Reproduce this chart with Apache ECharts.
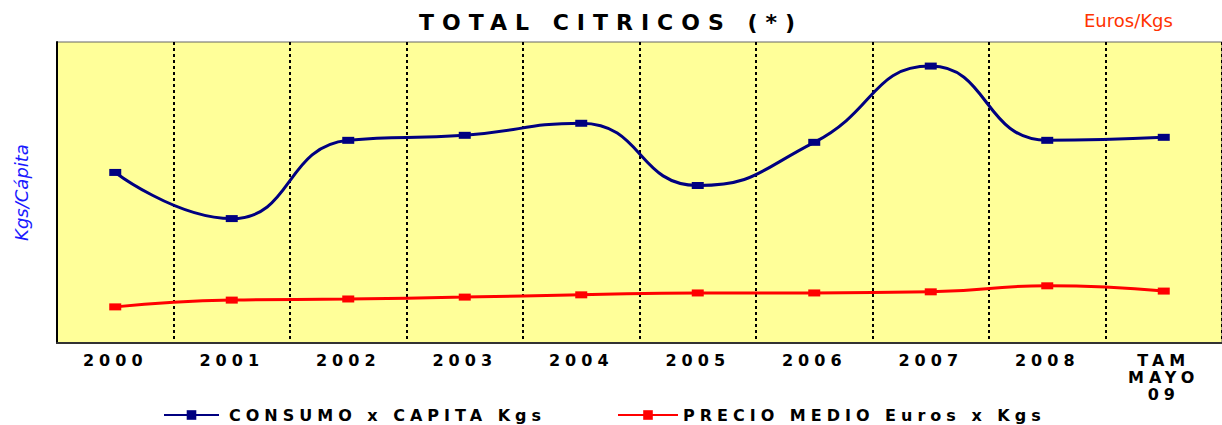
<!DOCTYPE html>
<html>
<head>
<meta charset="utf-8">
<title>TOTAL CITRICOS</title>
<script src="https://cdn.jsdelivr.net/npm/echarts@6/dist/echarts.min.js"></script>
<style>
    html, body { margin: 0; padding: 0; background: #fff; }
    #main { width: 1222px; height: 425px; }
    /* textos en negrita mas espaciados, como en el original */
    #main text[style*="bold"] { letter-spacing: 5px; }
    #main text[style*="22px"] { letter-spacing: 8px; }
</style>
</head>
<body>
<div id="main"></div>
<script>
    var years = ['2000', '2001', '2002', '2003', '2004', '2005', '2006', '2007', '2008', 'TAM\nMAYO\n09'];
    // Kgs/Capita
    var consumo = [27.0, 22.4, 30.2, 30.7, 31.9, 25.7, 30.0, 37.6, 30.2, 30.5];
    // Euros/Kgs
    var precio = [0.96, 1.14, 1.17, 1.22, 1.28, 1.33, 1.33, 1.36, 1.52, 1.38];

    var fontBold = 'DejaVu Sans';
    var myChart = echarts.init(document.getElementById('main'), null, { renderer: 'svg' });

    var option = {
        animation: false,
        title: [{
            text: 'TOTAL CITRICOS (*)',
            left: 'center',
            top: 6,
            textStyle: { fontFamily: fontBold, fontSize: 22, fontWeight: 'bold', color: '#000' }
        }, {
            text: 'Euros/Kgs',
            left: 1079,
            top: 6,
            textStyle: { fontFamily: 'DejaVu Sans', fontSize: 18, fontWeight: 'normal', color: '#FF3300' }
        }],
        legend: [{
            data: ['CONSUMO x CAPITA Kgs'],
            left: 163,
            top: 407,
            padding: 0,
            itemWidth: 55,
            itemHeight: 12,
            textStyle: { fontFamily: fontBold, fontSize: 16, fontWeight: 'bold', color: '#000', padding: [0, 0, 0, 5] }
        }, {
            data: ['PRECIO MEDIO Euros x Kgs'],
            left: 617,
            top: 407,
            padding: 0,
            itemWidth: 60,
            itemHeight: 12,
            textStyle: { fontFamily: fontBold, fontSize: 16, fontWeight: 'bold', color: '#000' }
        }],
        grid: {
            left: 57,
            right: 0,
            top: 42,
            bottom: 82,
            show: true,
            backgroundColor: '#FFFF99',
            borderColor: '#666',
            borderWidth: 1
        },
        xAxis: {
            type: 'category',
            data: years,
            boundaryGap: true,
            axisLine: { lineStyle: { color: '#333', width: 2 } },
            axisTick: { show: false },
            axisLabel: {
                fontFamily: fontBold,
                fontSize: 16,
                fontWeight: 'bold',
                color: '#000',
                margin: 9,
                lineHeight: 17,
                interval: 0
            },
            splitLine: { show: true, lineStyle: { color: '#000', width: 2, type: [3, 3] } }
        },
        yAxis: [{
            type: 'value',
            min: 10,
            max: 40,
            name: 'Kgs/Cápita',
            nameLocation: 'middle',
            nameGap: 27,
            nameRotate: 90,
            nameTextStyle: { fontFamily: 'DejaVu Sans', fontStyle: 'italic', fontSize: 18, color: '#1a1aff' },
            axisLine: { show: true, lineStyle: { color: '#000', width: 2 } },
            axisTick: { show: false },
            axisLabel: { show: false },
            splitLine: { show: false }
        }, {
            type: 'value',
            min: 0,
            max: 8,
            axisLine: { show: false },
            axisTick: { show: false },
            axisLabel: { show: false },
            splitLine: { show: false }
        }],
        series: [{
            name: 'CONSUMO x CAPITA Kgs',
            type: 'line',
            yAxisIndex: 0,
            data: consumo,
            smooth: 0.5,
            symbol: 'rect',
            symbolSize: [12, 7],
            itemStyle: { color: '#000080' },
            lineStyle: { color: '#000080', width: 3 }
        }, {
            name: 'PRECIO MEDIO Euros x Kgs',
            type: 'line',
            yAxisIndex: 1,
            data: precio,
            smooth: 0.5,
            symbol: 'rect',
            symbolSize: [12, 7],
            itemStyle: { color: '#FF0000' },
            lineStyle: { color: '#FF0000', width: 3 }
        }]
    };

    myChart.setOption(option);
</script>
</body>
</html>
